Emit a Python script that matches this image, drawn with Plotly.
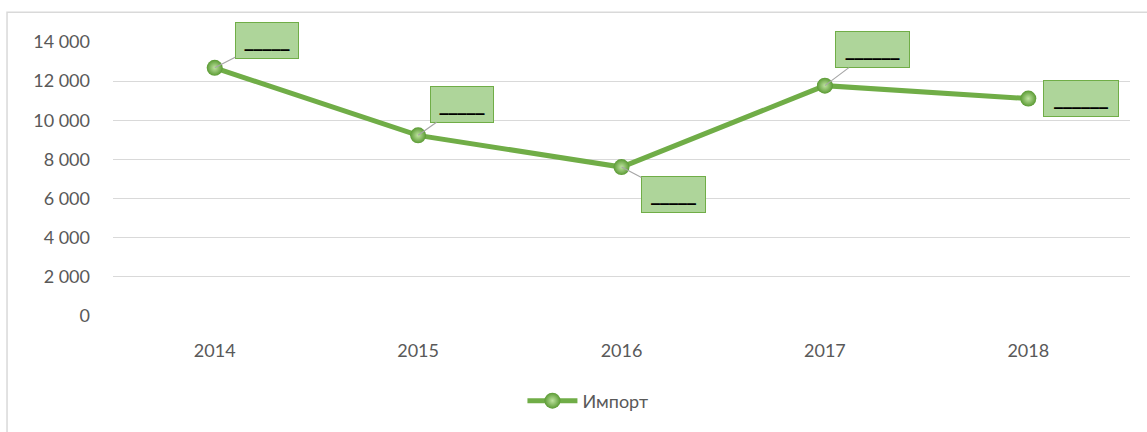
import plotly.graph_objects as go

years = ["2014", "2015", "2016", "2017", "2018"]
imports = [12680, 9230, 7610, 11770, 11110]
series_name = "Импорт"
label_texts = ["_____", "_____", "_____", "______", "______"]

# label box offsets (px) relative to each point, and box sizes
label_offsets = [(52, -27), (44, -31), (52, 27), (48, -36), (53, 0)]
label_widths = [62, 62, 63, 73, 74]

GREEN = "#70AD47"
FONT = "Lato, 'Noto Sans', sans-serif"

fig = go.Figure()
fig.add_trace(go.Scatter(
    x=years, y=imports, name=series_name, mode="lines+markers",
    line=dict(color=GREEN, width=5),
    marker=dict(size=16, color="#5A9A33",
                gradient=dict(type="radial", color="#BFE3A0"),
                line=dict(width=0)),
))

annotations = []
for i, v in enumerate(imports):
    ax, ay = label_offsets[i]
    annotations.append(dict(
        x=i, y=v, xref="x", yref="y", ax=ax, ay=ay,
        text="<b>" + label_texts[i] + "</b>", showarrow=True, arrowhead=0, arrowwidth=1.2,
        arrowcolor="#A6A6A6" if i != 4 else "rgba(0,0,0,0)",
        standoff=0, startstandoff=0,
        font=dict(family="'DejaVu Sans', sans-serif", size=18, color="#000000"),
        bgcolor="#AED59A", bordercolor=GREEN, borderwidth=1, borderpad=0,
        width=label_widths[i], height=35, valign="middle", align="center",
    ))

fig.update_layout(
    width=1147, height=432,
    margin=dict(l=113, r=17, t=42, b=114),
    paper_bgcolor="white", plot_bgcolor="white",
    separators=". ",
    font=dict(family=FONT, size=18, color="#595959"),
    showlegend=True,
    legend=dict(orientation="h", x=0.467, xanchor="center", y=-0.31, yanchor="middle",
                font=dict(size=18, color="#595959"), itemwidth=50),
    annotations=annotations,
    shapes=[dict(type="rect", xref="paper", yref="paper",
                 x0=-0.1042, x1=1.2, y0=-0.6, y1=1.1087,
                 line=dict(color="#D9D9D9", width=1.5), fillcolor="rgba(0,0,0,0)",
                 layer="below")],
)
fig.update_xaxes(type="category", range=[-0.5, len(years) - 0.5], autorange=False,
                 showgrid=False, showline=False, ticks="",
                 ticklabelstandoff=22, tickfont=dict(size=18, color="#595959"))
fig.update_yaxes(range=[0, 14000], autorange=False, dtick=2000, tickformat=",d", showgrid=True,
                 gridcolor="#D9D9D9", gridwidth=1.3, zeroline=False, showline=False,
                 ticks="", ticklabelstandoff=22, tickfont=dict(size=18, color="#595959"))

fig.write_html("out.html", config={"displayModeBar": False},
               post_script="document.body.style.margin='0';")
